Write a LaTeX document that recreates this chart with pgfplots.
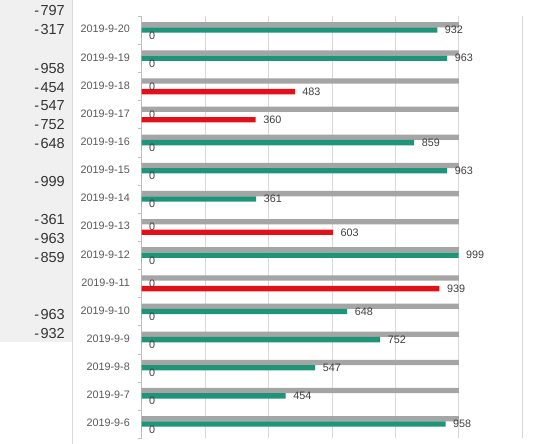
\documentclass[border=0pt]{standalone}
\usepackage{pgfplots}
\usepackage{pgfplotstable}
\pgfplotsset{compat=1.18}
\usepackage{fontspec}
\setmainfont{Liberation Sans}
\definecolor{barGray}{HTML}{A5A5A5}
\definecolor{barGreen}{HTML}{1F9479}
\definecolor{barRed}{HTML}{E3101A}
\definecolor{gridGray}{HTML}{D9D9D9}
\definecolor{axisGray}{HTML}{BFBFBF}
\definecolor{labGray}{HTML}{595959}
\definecolor{valGray}{HTML}{404040}
\definecolor{cellGray}{HTML}{F0F0F0}
\definecolor{cellText}{HTML}{333333}

\pgfplotstableread{
y gray green red
0 1000 958 0
1 1000 454 0
2 1000 547 0
3 1000 752 0
4 1000 648 0
5 1000 0 939
6 1000 999 0
7 1000 0 603
8 1000 361 0
9 1000 963 0
10 1000 859 0
11 1000 0 360
12 1000 0 483
13 1000 963 0
14 1000 932 0
}\datatable

\begin{document}
\begin{tikzpicture}
\useasboundingbox (0bp,0bp) rectangle (540bp,444bp);
\fill[white] (0bp,0bp) rectangle (540bp,444bp);
\fill[cellGray] (0bp,102bp) rectangle (72bp,444bp);
\draw[gridGray, line width=0.75bp] (72.5bp,0bp) -- (72.5bp,444bp);
\foreach \v/\yy in {797/433.3,317/414.7,958/375.7,454/356.7,547/338,752/319,648/300.5,999/262.3,361/224.7,963/205.7,859/186.7,963/129.7,932/110.7}
  \node[anchor=east, inner sep=0pt, text=cellText, font=\fontsize{14.5bp}{16bp}\selectfont] at (65bp,\yy bp) {-\kern1.5bp\v};
\begin{axis}[
  at={(141.5bp,5.7bp)}, anchor=south west,
  scale only axis, width=380.8bp, height=422.1bp,
  xmin=0, xmax=1200, ymin=-0.5, ymax=14.5,
  xbar, bar width=5.3bp,
  axis lines*=left,
  x axis line style={draw=none},
  y axis line style={axisGray, line width=0.75bp},
  xtick={0,200,...,1200}, xticklabel=\empty,
  xmajorgrids=true,
  grid style={gridGray, line width=0.75bp},
  major tick length=0pt, minor tick length=4bp, tick align=outside,
  ytick={0,...,14},
  yticklabels={2019-9-6,2019-9-7,2019-9-8,2019-9-9,2019-9-10,2019-9-11,2019-9-12,2019-9-13,2019-9-14,2019-9-15,2019-9-16,2019-9-17,2019-9-18,2019-9-19,2019-9-20},
  minor ytick={-0.5,0.5,...,14.5},
  minor tick style={axisGray, line width=0.75bp},
  major tick style={draw=none},
  yticklabel style={font=\fontsize{10.8bp}{12bp}\selectfont, text=labGray, anchor=east, inner sep=0pt, xshift=-11.5bp, yshift=1bp},
  /pgf/number format/assume math mode=true,
]
\addplot[draw=none, fill=barGray, bar shift=5.5bp] table[x=gray, y=y] {\datatable};
\addplot[draw=none, fill=barGreen, bar shift=0.2bp,
  nodes near coords, point meta=x,
  every node near coord/.append style={font=\fontsize{10.8bp}{12bp}\selectfont, text=valGray, anchor=west, inner sep=0pt, xshift=7.5bp}]
  table[x=green, y=y] {\datatable};
\addplot[draw=none, fill=barRed, bar shift=-5.1bp,
  nodes near coords, point meta=x,
  every node near coord/.append style={font=\fontsize{10.8bp}{12bp}\selectfont, text=valGray, anchor=west, inner sep=0pt, xshift=7.5bp}]
  table[x=red, y=y] {\datatable};
\end{axis}
\end{tikzpicture}
\end{document}
